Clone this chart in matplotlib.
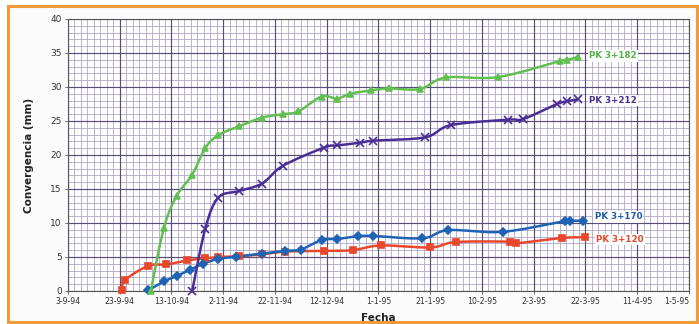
import matplotlib
matplotlib.use("Agg")
import matplotlib.pyplot as plt
import matplotlib.dates as mdates
import matplotlib.patches as mpatches
import numpy as np
import pandas as pd

# ---------------- data ----------------
fechas_120 = ["1994-09-24", "1994-09-25", "1994-10-04", "1994-10-11", "1994-10-19", "1994-10-26",
              "1994-10-31", "1994-11-08", "1994-11-17", "1994-11-26", "1994-12-11", "1994-12-22",
              "1995-01-02", "1995-01-21", "1995-01-31", "1995-02-21", "1995-02-23", "1995-03-13",
              "1995-03-22"]
conv_120 = [0.1, 1.6, 3.7, 3.9, 4.5, 4.8, 5.0, 5.1, 5.4, 5.8, 5.9, 6.0, 6.7, 6.4, 7.2, 7.25, 7.0, 7.8, 7.9]

fechas_170 = ["1994-10-04", "1994-10-10", "1994-10-15", "1994-10-20", "1994-10-25", "1994-10-31",
              "1994-11-07", "1994-11-17", "1994-11-26", "1994-12-02", "1994-12-10", "1994-12-16",
              "1994-12-24", "1994-12-30", "1995-01-18", "1995-01-28", "1995-02-18", "1995-03-14",
              "1995-03-16", "1995-03-21"]
conv_170 = [0.1, 1.4, 2.2, 3.1, 4.0, 4.7, 5.05, 5.5, 5.9, 6.1, 7.5, 7.65, 8.05, 8.1, 7.75, 8.95, 8.7,
            10.3, 10.35, 10.3]

fechas_182 = ["1994-10-05", "1994-10-10", "1994-10-15", "1994-10-21", "1994-10-26", "1994-10-31",
              "1994-11-08", "1994-11-17", "1994-11-25", "1994-12-01", "1994-12-10", "1994-12-16",
              "1994-12-21", "1994-12-29", "1995-01-05", "1995-01-17", "1995-01-27", "1995-02-16",
              "1995-03-12", "1995-03-15", "1995-03-19"]
conv_182 = [0.0, 9.2, 14.0, 17.1, 21.0, 22.9, 24.2, 25.5, 26.0, 26.4, 28.6, 28.3, 29.0, 29.5, 29.8,
            29.7, 31.4, 31.45, 33.8, 34.0, 34.4]

fechas_212 = ["1994-10-21", "1994-10-26", "1994-10-31", "1994-11-08", "1994-11-17", "1994-11-25",
              "1994-12-11", "1994-12-16", "1994-12-25", "1994-12-30", "1995-01-19", "1995-01-29",
              "1995-02-20", "1995-02-26", "1995-03-11", "1995-03-15", "1995-03-19"]
conv_212 = [0.0, 9.1, 13.7, 14.7, 15.8, 18.4, 21.1, 21.4, 21.8, 22.1, 22.6, 24.4, 25.2, 25.3, 27.5,
            27.9, 28.2]

series_names = ["PK 3+120", "PK 3+170", "PK 3+182", "PK 3+212"]
tick_fechas = ["1994-09-03", "1994-09-23", "1994-10-13", "1994-11-02", "1994-11-22", "1994-12-12",
               "1995-01-01", "1995-01-21", "1995-02-10", "1995-03-02", "1995-03-22", "1995-04-11",
               "1995-05-01"]
tick_labels = ["3-9-94", "23-9-94", "13-10-94", "2-11-94", "22-11-94", "12-12-94", "1-1-95",
               "21-1-95", "10-2-95", "2-3-95", "22-3-95", "11-4-95", "1-5-95"]


def smooth(xs, ys, xr, yr, n=12):
    """Catmull-Rom style smoothed path through points (drawing only)."""
    px = np.asarray(xs, float) / xr
    py = np.asarray(ys, float) / yr
    P = np.column_stack([px, py])
    if len(P) < 3:
        return xs, ys
    P = np.vstack([P[0], P, P[-1]])
    out = []
    for i in range(1, len(P) - 2):
        p0, p1, p2, p3 = P[i - 1], P[i], P[i + 1], P[i + 2]
        for t in np.linspace(0, 1, n, endpoint=False):
            t2, t3 = t * t, t * t * t
            pt = 0.5 * ((2 * p1) + (-p0 + p2) * t + (2 * p0 - 5 * p1 + 4 * p2 - p3) * t2
                        + (-p0 + 3 * p1 - 3 * p2 + p3) * t3)
            out.append(pt)
    out.append(P[-2])
    out = np.array(out)
    return out[:, 0] * xr, out[:, 1] * yr


# ---------------- figure ----------------
W, H = 699, 324
fig = plt.figure(figsize=(W / 100, H / 100), dpi=100)
fig.patch.set_facecolor("white")
frame = mpatches.Rectangle((8 / W, 1 - 322 / H), (697 - 8) / W, (322 - 6) / H,
                           transform=fig.transFigure, facecolor="#FBFBFB",
                           edgecolor="#F39A3C", linewidth=2.2, zorder=-10)
fig.patches.append(frame)

ax = fig.add_axes([68 / W, 1 - 291 / H, (689 - 68) / W, (291 - 19) / H])
ax.set_zorder(1)
ax.set_facecolor("white")

ticks = pd.to_datetime(tick_fechas)
x0, x1 = mdates.date2num(ticks[0]), mdates.date2num(ticks[-1])
ax.set_xlim(x0, x1)
ax.set_ylim(0, 40)

# grid
minor_x = [x0 + 2.5 * i for i in range(int((x1 - x0) / 2.5) + 1)]
for xv in minor_x:
    ax.axvline(xv, color="#B5ACCC", lw=0.65, zorder=1)
for yv in range(0, 41):
    ax.axhline(yv, color="#B5ACCC", lw=0.65, zorder=1)
for t in ticks:
    ax.axvline(mdates.date2num(t), color="#5A4C78", lw=0.85, zorder=1.5)
for yv in range(0, 41, 5):
    ax.axhline(yv, color="#5A4C78", lw=0.85, zorder=1.5)

ax.set_xticks([mdates.date2num(t) for t in ticks])
ax.set_xticklabels(tick_labels, fontsize=5.6, color="#333333")
ax.set_yticks(range(0, 41, 5))
ax.set_yticklabels([str(v) for v in range(0, 41, 5)], fontsize=6.5, color="#333333")
ax.tick_params(axis="both", length=2.5, width=0.6, pad=2, color="#555555")
for lab in ax.get_xticklabels()[-1:]:
    lab.set_horizontalalignment("right")
    lab.set_x(x1 + 3)
for s in ax.spines.values():
    s.set_color("#555555")
    s.set_linewidth(0.8)

ax.set_xlabel("Fecha", fontsize=7.5, fontweight="bold", color="#222222", labelpad=5)
ax.set_ylabel("Convergencia (mm)", fontsize=7.5, fontweight="bold", color="#222222", labelpad=12)

styles = [
    (fechas_120, conv_120, "#E8472B", "s", 4.5),
    (fechas_170, conv_170, "#1E63B4", "D", 4.5),
    (fechas_182, conv_182, "#62C050", "^", 5.0),
    (fechas_212, conv_212, "#4A2E96", "x", 5.5),
]
xr, yr = (x1 - x0), 40 * 2.2
for (f, c, col, mk, ms), name in zip(styles, series_names):
    xs = mdates.date2num(pd.to_datetime(f))
    sx, sy = smooth(xs, c, xr, yr)
    ax.plot(sx, sy, color=col, lw=1.8, zorder=3, label=name, clip_on=False,
            solid_capstyle="round")
    ax.plot(xs, c, ls="none", marker=mk, ms=ms, mfc=col, mec=col, mew=1.2,
            zorder=3.5, clip_on=False)

# series labels
label_cols = {"PK 3+120": "#E8472B", "PK 3+170": "#1E5AA8", "PK 3+182": "#55B046", "PK 3+212": "#4A2E96"}
label_pos = {"PK 3+120": (conv_120, fechas_120, 4.0, -0.3),
             "PK 3+170": (conv_170, fechas_170, 4.5, 0.6),
             "PK 3+182": (conv_182, fechas_182, 4.5, 0.2),
             "PK 3+212": (conv_212, fechas_212, 4.5, -0.2)}
for name, (c, f, dx, dy) in label_pos.items():
    xl = mdates.date2num(pd.to_datetime(f[-1])) + dx
    ax.text(xl, c[-1] + dy, name, fontsize=6.3, fontweight="bold", color=label_cols[name],
            va="center", ha="left", zorder=4,
            bbox=dict(boxstyle="square,pad=0.15", facecolor="white", edgecolor="none"))

fig.savefig("out.png", dpi=100, facecolor=fig.get_facecolor())
